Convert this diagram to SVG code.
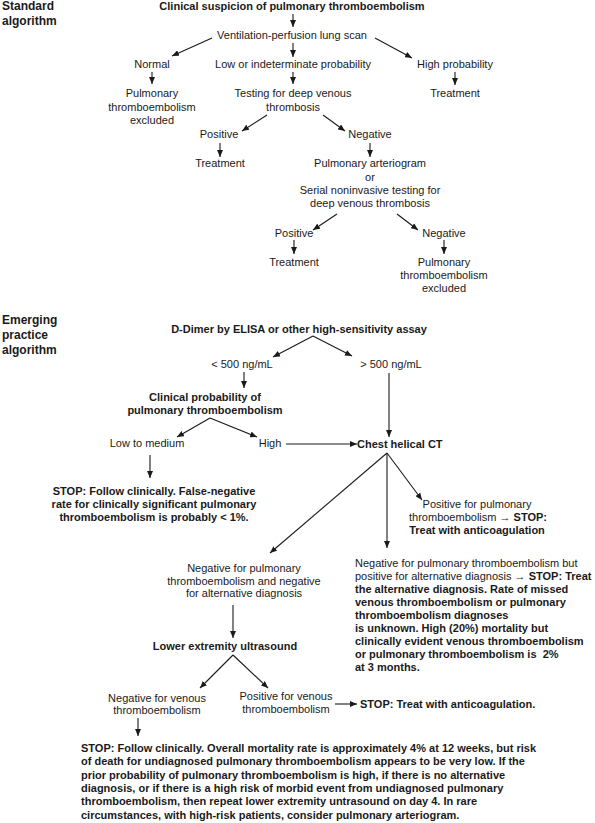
<svg xmlns="http://www.w3.org/2000/svg" width="595" height="823" viewBox="0 0 595 823">
<defs>
<style>
text{font-family:"Liberation Sans",Arial,Helvetica,sans-serif;fill:#1a1a1a}
.r{font-size:11px}
.b{font-size:11px;font-weight:bold}
.h{font-size:12px;font-weight:bold}
.m{text-anchor:middle}
.c line{stroke:#1a1a1a;stroke-width:1.1;marker-end:url(#ah)}
.c line.n{marker-end:none}
</style>
<marker id="ah" markerUnits="userSpaceOnUse" markerWidth="8" markerHeight="6" refX="7" refY="3" orient="auto">
<path d="M0,0 L7,3 L0,6 z" fill="#1a1a1a"/>
</marker>
</defs>
<rect width="595" height="823" fill="#fff"/>

<g id="heading-standard"><text class="h" x="2" y="10">Standard</text><text class="h" x="2" y="24.5">algorithm</text></g>
<g id="heading-emerging"><text class="h" x="2" y="324">Emerging</text><text class="h" x="2" y="339">practice</text><text class="h" x="2" y="354">algorithm</text></g>

<g class="c" id="connectors">
<line x1="293" y1="14" x2="293" y2="27"/>
<line x1="212" y1="38" x2="172" y2="56"/>
<line x1="375" y1="38" x2="412" y2="58"/>
<line x1="293" y1="43" x2="293" y2="57"/>
<line x1="152" y1="72" x2="152" y2="84"/>
<line x1="293" y1="72" x2="293" y2="84"/>
<line x1="455" y1="72" x2="455" y2="85"/>
<line x1="267" y1="115" x2="242" y2="131"/>
<line x1="323" y1="115" x2="345" y2="131"/>
<line x1="220" y1="143" x2="220" y2="157"/>
<line x1="370" y1="143" x2="370" y2="157"/>
<line x1="337" y1="214" x2="313" y2="230"/>
<line x1="397" y1="214" x2="418" y2="230"/>
<line x1="294" y1="240" x2="294" y2="254"/>
<line x1="444" y1="240" x2="444" y2="254"/>

<line x1="313" y1="336" x2="273" y2="357"/>
<line x1="313" y1="336" x2="352" y2="356"/>
<line x1="244" y1="372" x2="244" y2="388"/>
<line x1="389" y1="373" x2="389" y2="437"/>
<line x1="210" y1="418" x2="177" y2="437"/>
<line x1="210" y1="418" x2="257" y2="437"/>
<line x1="286" y1="444" x2="357" y2="444"/>
<line x1="150" y1="455" x2="150" y2="478"/>
<line x1="387" y1="453" x2="270" y2="553"/>
<line x1="387" y1="453" x2="387" y2="548"/>
<line x1="387" y1="453" x2="422" y2="500"/>
<line x1="233" y1="605" x2="233" y2="638"/>
<line x1="233" y1="655" x2="200" y2="688"/>
<line x1="233" y1="655" x2="268" y2="688"/>
<line x1="335" y1="704" x2="357" y2="704"/>
<line x1="138" y1="718" x2="138" y2="736"/>
</g>

<g id="n-clinical-suspicion"><text class="b m" x="292" y="10">Clinical suspicion of pulmonary thromboembolism</text></g>
<g id="n-vq-scan"><text class="r m" x="292" y="39">Ventilation-perfusion lung scan</text></g>
<g id="n-normal"><text class="r m" x="152" y="68">Normal</text></g>
<g id="n-low"><text class="r m" x="293" y="68">Low or indeterminate probability</text></g>
<g id="n-high"><text class="r m" x="455" y="68">High probability</text></g>
<g id="n-excluded1"><text class="r m" x="152" y="97">Pulmonary</text><text class="r m" x="152" y="110.5">thromboembolism</text><text class="r m" x="152" y="124">excluded</text></g>
<g id="n-testing"><text class="r m" x="293" y="97">Testing for deep venous</text><text class="r m" x="293" y="110.5">thrombosis</text></g>
<g id="n-treat1"><text class="r m" x="455" y="97">Treatment</text></g>
<g id="n-pos1"><text class="r m" x="219" y="138">Positive</text></g>
<g id="n-neg1"><text class="r m" x="370" y="138">Negative</text></g>
<g id="n-treat2"><text class="r m" x="220" y="167">Treatment</text></g>
<g id="n-arteriogram"><text class="r m" x="370" y="167">Pulmonary arteriogram</text><text class="r m" x="370" y="180.5">or</text><text class="r m" x="370" y="194">Serial noninvasive testing for</text><text class="r m" x="370" y="207">deep venous thrombosis</text></g>
<g id="n-pos2"><text class="r m" x="294" y="237">Positive</text></g>
<g id="n-neg2"><text class="r m" x="444" y="237">Negative</text></g>
<g id="n-treat3"><text class="r m" x="294" y="266">Treatment</text></g>
<g id="n-excluded2"><text class="r m" x="444" y="266">Pulmonary</text><text class="r m" x="444" y="279">thromboembolism</text><text class="r m" x="444" y="292">excluded</text></g>

<g id="n-ddimer"><text class="b m" x="299" y="333">D-Dimer by ELISA or other high-sensitivity assay</text></g>
<g id="n-lt500"><text class="r m" x="242" y="368">&lt; 500 ng/mL</text></g>
<g id="n-gt500"><text class="r m" x="391" y="368">&gt; 500 ng/mL</text></g>
<g id="n-clinprob"><text class="b m" x="205" y="401">Clinical probability of</text><text class="b m" x="205" y="414">pulmonary thromboembolism</text></g>
<g id="n-lowmed"><text class="r m" x="147" y="447">Low to medium</text></g>
<g id="n-highprob"><text class="r m" x="270" y="447">High</text></g>
<g id="n-ct"><text class="b" x="357" y="448">Chest helical CT</text></g>
<g id="n-stop1"><text class="b m" x="154" y="495">STOP: Follow clinically. False-negative</text><text class="b m" x="154" y="508">rate for clinically significant pulmonary</text><text class="b m" x="154" y="521">thromboembolism is probably &lt; 1%.</text></g>
<g id="n-ctpos"><text class="r m" x="477" y="508">Positive for pulmonary</text><text class="r m" x="478" y="521">thromboembolism → <tspan font-weight="bold">STOP:</tspan></text><text class="b m" x="477" y="534">Treat with anticoagulation</text></g>
<g id="n-ctalt">
<text class="r" x="355" y="567">Negative for pulmonary thromboembolism but</text>
<text class="r" x="355" y="580">positive for alternative diagnosis → <tspan font-weight="bold">STOP: Treat</tspan></text>
<text class="b" x="355" y="593">the alternative diagnosis. Rate of missed</text>
<text class="b" x="355" y="606">venous thromboembolism or pulmonary</text>
<text class="b" x="355" y="619">thromboembolism diagnoses</text>
<text class="b" x="355" y="632">is unknown. High (20%) mortality but</text>
<text class="b" x="355" y="645">clinically evident venous thromboembolism</text>
<text class="b" x="355" y="658" style="white-space:pre">or pulmonary thromboembolism is  2%</text>
<text class="b" x="355" y="671">at 3 months.</text>
</g>
<g id="n-ctneg"><text class="r m" x="244" y="572">Negative for pulmonary</text><text class="r m" x="244" y="585">thromboembolism and negative</text><text class="r m" x="244" y="597">for alternative diagnosis</text></g>
<g id="n-ultrasound"><text class="b m" x="225" y="650">Lower extremity ultrasound</text></g>
<g id="n-usneg"><text class="r m" x="157" y="702">Negative for venous</text><text class="r m" x="157" y="714">thromboembolism</text></g>
<g id="n-uspos"><text class="r m" x="286" y="700">Positive for venous</text><text class="r m" x="286" y="713">thromboembolism</text></g>
<g id="n-stop-treat"><text class="b" x="360" y="708">STOP: Treat with anticoagulation.</text></g>
<g id="n-stop-final">
<text class="b" x="81" y="752">STOP: Follow clinically. Overall mortality rate is approximately 4% at 12 weeks, but risk</text>
<text class="b" x="81" y="765.3">of death for undiagnosed pulmonary thromboembolism appears to be very low. If the</text>
<text class="b" x="81" y="778.6">prior probability of pulmonary thromboembolism is high, if there is no alternative</text>
<text class="b" x="81" y="791.9">diagnosis, or if there is a high risk of morbid event from undiagnosed pulmonary</text>
<text class="b" x="81" y="805.2">thromboembolism, then repeat lower extremity untrasound on day 4. In rare</text>
<text class="b" x="81" y="818.5">circumstances, with high-risk patients, consider pulmonary arteriogram.</text>
</g>
</svg>
